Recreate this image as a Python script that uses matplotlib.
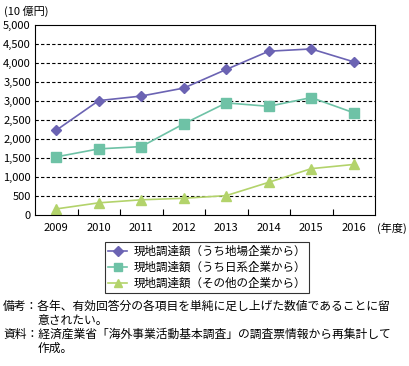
import matplotlib.pyplot as plt
import numpy as np

plt.rcParams['font.family'] = ['Noto Sans CJK JP', 'DejaVu Sans']

YEARS = ['2009', '2010', '2011', '2012', '2013', '2014', '2015', '2016']
LOCAL = [2230, 3010, 3130, 3340, 3830, 4310, 4370, 4030]
JAPAN = [1530, 1740, 1800, 2400, 2950, 2860, 3090, 2690]
OTHER = [160, 320, 400, 440, 510, 860, 1220, 1330]
LABELS = ['現地調達額（うち地場企業から）', '現地調達額（うち日系企業から）',
          '現地調達額（その他の企業から）']


def main():
    fig = plt.figure(figsize=(4.09, 3.66), dpi=100)
    ax = fig.add_axes([35 / 409, 1 - 215 / 366, 340 / 409, 190 / 366])
    x = np.arange(len(YEARS))
    ax.plot(x, LOCAL, color='#6b63b3', marker='D', markersize=5.5, lw=1.2, label=LABELS[0])
    ax.plot(x, JAPAN, color='#6ec2a6', marker='s', markersize=6.5, lw=1.2, label=LABELS[1])
    ax.plot(x, OTHER, color='#b3d36b', marker='^', markersize=6.5, lw=1.2, label=LABELS[2])

    ax.set_xlim(-0.5, 7.5)
    ax.set_ylim(0, 5000)
    ax.set_yticks(range(0, 5001, 500))
    ax.set_yticklabels(['{:,}'.format(v) for v in range(0, 5001, 500)])
    ax.set_xticks(x)
    ax.set_xticklabels(YEARS)
    ax.set_xticks(np.arange(0.5, 7, 1), minor=True)
    ax.tick_params(axis='x', which='major', length=0, labelsize=8, pad=6)
    ax.tick_params(axis='x', which='minor', direction='in', length=4, width=0.8)
    ax.tick_params(axis='y', length=0, labelsize=8, pad=3)
    for v in range(500, 5000, 500):
        ax.axhline(v, color='black', lw=0.8, ls=(0, (3, 2)), zorder=0)
    for s in ax.spines.values():
        s.set_linewidth(0.8)

    fig.text(4 / 409, 1 - 11 / 366, '(10 億円)', fontsize=8, va='center', ha='left')
    fig.text(377 / 409, 1 - 228 / 366, '(年度)', fontsize=8, va='center', ha='left')

    leg = ax.legend(loc='upper left', bbox_to_anchor=(105 / 409, 1 - 242 / 366),
                    bbox_transform=fig.transFigure, fontsize=8.3, frameon=True,
                    fancybox=False, edgecolor='black', handlelength=1.7,
                    markerscale=0.85, borderpad=0.25, labelspacing=0.25,
                    handletextpad=0.5, borderaxespad=0)
    leg.get_frame().set_linewidth(0.8)

    fs = 8.5
    fig.text(3 / 409, 1 - 310 / 366, '備考：各年、有効回答分の各項目を単純に足し上げた数値であることに留',
             fontsize=fs, va='baseline')
    fig.text(38 / 409, 1 - 324 / 366, '意されたい。', fontsize=fs, va='baseline')
    fig.text(3 / 409, 1 - 338 / 366, '資料：経済産業省「海外事業活動基本調査」の調査票情報から再集計して',
             fontsize=fs, va='baseline')
    fig.text(38 / 409, 1 - 352 / 366, '作成。', fontsize=fs, va='baseline')

    fig.savefig('out.png', dpi=100)


if __name__ == '__main__':
    main()
